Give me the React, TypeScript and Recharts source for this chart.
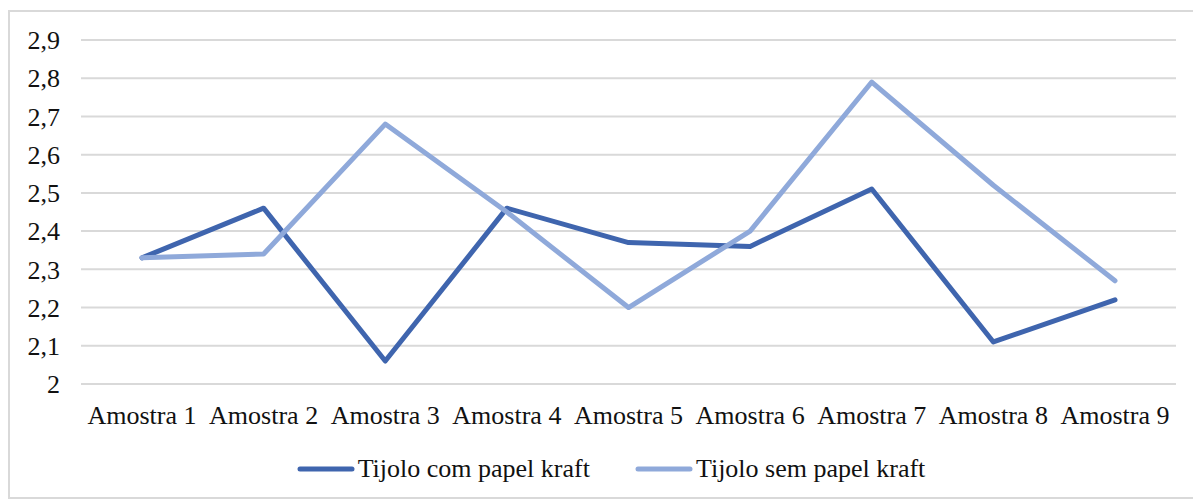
import { LineChart, Line, XAxis, YAxis, CartesianGrid, Legend } from 'recharts'

const categories = ['Amostra 1', 'Amostra 2', 'Amostra 3', 'Amostra 4', 'Amostra 5', 'Amostra 6', 'Amostra 7', 'Amostra 8', 'Amostra 9']
const comKraft = [2.33, 2.46, 2.06, 2.46, 2.37, 2.36, 2.51, 2.11, 2.22]
const semKraft = [2.33, 2.34, 2.68, 2.45, 2.2, 2.4, 2.79, 2.52, 2.27]
const yTicks = [2, 2.1, 2.2, 2.3, 2.4, 2.5, 2.6, 2.7, 2.8, 2.9]

const series = [
  { key: 'com', name: 'Tijolo com papel kraft', color: '#3F65AE' },
  { key: 'sem', name: 'Tijolo sem papel kraft', color: '#8FA9DA' },
]

const data = categories.map((name, i) => ({ name, com: comKraft[i], sem: semKraft[i] }))

const font = '"Liberation Serif", "Times New Roman", serif'

function LegendBox() {
  return (
    <div style={{ display: 'flex', justifyContent: 'center', alignItems: 'center', height: 50, paddingLeft: 12, fontFamily: font, fontSize: 26, color: '#111' }}>
      {series.map((s, i) => (
        <div key={s.key} style={{ display: 'flex', alignItems: 'center', marginLeft: i ? 45 : 0 }}>
          <svg width={58} height={10} style={{ marginRight: 3 }}>
            <line x1={3} y1={5} x2={55} y2={5} stroke={s.color} strokeWidth={5} strokeLinecap="round" />
          </svg>
          <span>{s.name}</span>
        </div>
      ))}
    </div>
  )
}

export default function App() {
  return (
    <div style={{
      marginTop: 2,
      width: 1200,
      height: 489,
      border: '2px solid #D9D9D9',
      boxSizing: 'border-box',
      background: '#fff',
      overflow: 'hidden',
    }}>
      <LineChart width={1190} height={487} data={data} margin={{ top: 28, right: 24, left: 0, bottom: 5 }}>
        <CartesianGrid vertical={false} stroke="#D9D9D9" strokeWidth={2} />
        <XAxis
          dataKey="name"
          axisLine={false}
          tickLine={false}
          height={60}
          tickMargin={16}
          interval={0}
          padding={{ left: 61, right: 61 }}
          tick={{ fontFamily: font, fontSize: 26, fill: '#111' }}
        />
        <YAxis
          domain={[2, 2.9]}
          ticks={yTicks}
          axisLine={false}
          tickLine={false}
          width={71}
          tickMargin={15}
          tickFormatter={(v: number) => String(v).replace('.', ',')}
          tick={{ fontFamily: font, fontSize: 26, fill: '#111' }}
        />
        <Legend verticalAlign="bottom" height={50} wrapperStyle={{ left: 0, width: 1190 }} content={() => <LegendBox />} />
        {series.map(s => (
          <Line
            key={s.key}
            type="linear"
            dataKey={s.key}
            name={s.name}
            stroke={s.color}
            strokeWidth={5}
            strokeLinecap="round"
            strokeLinejoin="round"
            dot={false}
            activeDot={false}
            isAnimationActive={false}
          />
        ))}
      </LineChart>
    </div>
  )
}
